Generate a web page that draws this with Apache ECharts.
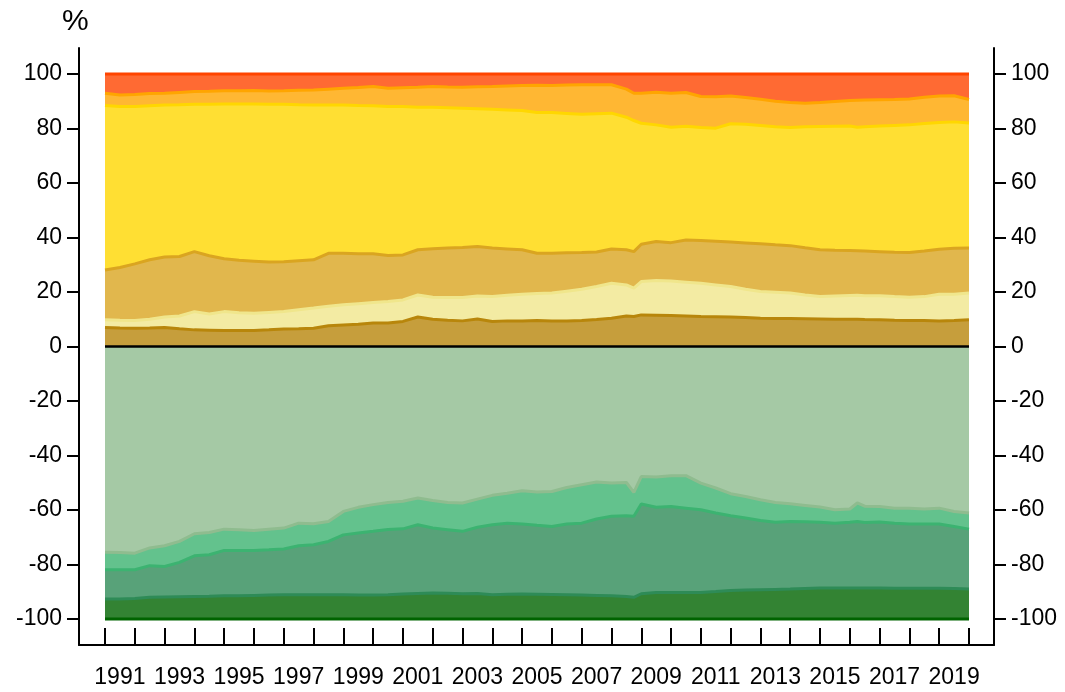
<!DOCTYPE html>
<html>
<head>
<meta charset="utf-8">
<script src="https://cdn.jsdelivr.net/npm/echarts@6/dist/echarts.min.js"></script>
<style>
html,body{margin:0;padding:0;background:#fff;}
#chart{width:1065px;height:692px;}
</style>
</head>
<body>
<div id="chart"></div>
<script>
// Time points (fractional years)
const dates = [1991.0,1991.5,1992.0,1992.5,1993.0,1993.5,1994.0,1994.5,1995.0,1995.5,1996.0,1996.5,1997.0,1997.5,1998.0,1998.5,1999.0,1999.5,2000.0,2000.5,2001.0,2001.5,2002.0,2002.5,2003.0,2003.5,2004.0,2004.5,2005.0,2005.5,2006.0,2006.5,2007.0,2007.5,2008.0,2008.5,2008.75,2009.0,2009.5,2010.0,2010.5,2011.0,2011.5,2012.0,2012.5,2013.0,2013.5,2014.0,2014.5,2015.0,2015.5,2016.0,2016.25,2016.5,2017.0,2017.5,2018.0,2018.5,2019.0,2019.5,2020.0];

// Year categories for the axis
const years = [1991,1992,1993,1994,1995,1996,1997,1998,1999,2000,2001,2002,2003,2004,2005,2006,2007,2008,2009,2010,2011,2012,2013,2014,2015,2016,2017,2018,2019];
const yTicks = [-100,-80,-60,-40,-20,0,20,40,60,80,100];

// Positive shares (stacked from 0 upward)
const posDarkGoldenrod = [7.0,6.8,6.7,6.8,7.0,6.5,6.1,6.0,5.9,5.9,5.9,6.1,6.4,6.5,6.7,7.6,7.9,8.2,8.6,8.6,9.2,10.8,10.0,9.6,9.4,10.1,9.2,9.4,9.4,9.5,9.4,9.4,9.5,9.9,10.4,11.2,11.0,11.6,11.5,11.4,11.2,11.0,10.9,10.8,10.6,10.4,10.3,10.3,10.2,10.1,10.0,10.0,10.0,9.9,9.8,9.6,9.5,9.5,9.4,9.5,9.8];
const posKhaki = [2.8,2.8,2.8,3.2,3.8,4.7,6.7,5.9,6.9,6.5,6.3,6.4,6.4,7.0,7.4,7.2,7.4,7.5,7.5,7.9,7.9,8.1,8.1,8.4,8.6,8.4,9.1,9.4,9.8,9.9,10.2,10.9,11.5,12.1,12.8,11.4,10.4,12.2,12.7,12.6,12.4,12.2,11.7,11.2,10.4,9.8,9.6,9.3,8.7,8.2,8.5,8.7,8.8,8.7,8.8,8.7,8.6,8.8,9.8,9.7,9.8];
const posGoldenrod = [18.3,19.4,20.8,21.8,22.0,21.8,22.0,21.4,19.4,19.2,19.1,18.5,18.3,18.0,17.7,19.4,18.9,18.3,17.9,16.9,16.5,16.6,17.8,18.1,18.3,18.2,17.8,17.0,16.3,14.8,14.6,14.1,13.5,12.7,12.6,12.9,13.4,13.7,14.3,14.1,15.5,15.7,16.0,16.3,17.0,17.5,17.4,17.4,17.3,17.2,16.8,16.5,16.3,16.4,16.2,16.3,16.4,16.7,16.5,16.8,16.5];
const posGold = [60.3,59.0,57.7,56.5,55.8,55.7,54.1,55.6,56.8,57.4,57.7,57.9,57.8,57.2,56.8,54.4,54.4,54.4,54.3,54.6,54.4,52.3,51.9,51.5,51.1,50.5,50.9,51.0,51.1,51.6,51.6,51.1,50.7,50.7,49.8,48.6,48.1,44.4,42.8,42.3,41.7,41.4,41.5,43.4,43.5,43.4,43.3,43.3,44.4,45.2,45.5,45.7,45.3,45.6,46.1,46.5,46.8,46.8,46.5,46.4,45.9];
const posOrange = [4.5,4.3,4.4,4.5,4.3,4.5,4.6,4.7,4.8,4.8,4.9,4.8,4.9,5.3,5.5,5.8,6.1,6.6,7.1,6.7,6.9,7.3,7.6,7.6,7.7,8.1,8.4,8.8,9.1,10.0,9.9,10.4,10.8,10.6,10.4,10.3,10.0,11.0,12.0,12.5,12.4,11.4,11.5,10.2,9.8,9.6,9.4,9.2,8.6,8.8,9.1,9.3,9.9,9.8,9.6,9.5,9.5,9.6,9.7,9.6,8.6];
const posOrangeRed = [7.1,7.7,7.6,7.2,7.1,6.8,6.5,6.4,6.2,6.2,6.1,6.3,6.2,6.0,5.9,5.6,5.3,5.0,4.6,5.3,5.1,4.9,4.6,4.8,4.9,4.7,4.6,4.4,4.3,4.2,4.3,4.1,4.0,4.0,4.0,5.6,7.1,7.1,6.7,7.1,6.8,8.3,8.4,8.1,8.7,9.3,10.0,10.5,10.8,10.5,10.1,9.8,9.7,9.6,9.5,9.4,9.2,8.6,8.1,8.0,9.4];

// Negative shares (stacked from 0 downward)
const negDarkSeaGreen = [-75.5,-75.6,-75.8,-73.9,-73.1,-71.5,-68.7,-68.2,-67.0,-67.2,-67.5,-67.0,-66.6,-64.8,-65.0,-64.2,-60.5,-59.0,-58.0,-57.2,-56.8,-55.6,-56.5,-57.2,-57.4,-56.0,-54.6,-53.8,-52.9,-53.4,-53.2,-51.7,-50.7,-49.7,-50.1,-49.9,-53.5,-47.7,-47.9,-47.4,-47.4,-50.1,-51.9,-54.0,-55.0,-56.2,-57.2,-57.7,-58.3,-58.9,-59.9,-59.6,-57.4,-58.6,-58.7,-59.3,-59.3,-59.6,-59.3,-60.5,-61.1];
const negMediumSeaGreen = [-6.4,-6.3,-6.1,-6.5,-7.6,-7.7,-8.1,-8.2,-7.8,-7.6,-7.3,-7.6,-7.7,-8.3,-7.7,-7.3,-8.6,-9.4,-9.8,-9.9,-10.1,-9.8,-10.1,-10.0,-10.4,-10.3,-10.8,-11.0,-12.2,-12.2,-12.8,-13.4,-14.1,-13.6,-12.2,-12.2,-8.8,-10.1,-11.1,-11.3,-11.9,-9.8,-9.2,-8.1,-7.9,-7.6,-7.3,-6.5,-6.0,-5.6,-4.9,-4.9,-6.8,-6.0,-5.7,-5.5,-5.8,-5.5,-5.8,-5.5,-5.9];
const negSeaGreen = [-10.7,-10.7,-10.5,-11.6,-11.2,-12.6,-14.9,-15.2,-16.6,-16.6,-16.5,-16.6,-16.8,-18.0,-18.4,-19.6,-22.0,-22.8,-23.4,-24.0,-23.9,-25.2,-23.8,-23.3,-22.9,-24.3,-25.7,-26.1,-25.7,-25.3,-25.0,-26.0,-26.4,-28.0,-29.1,-29.6,-29.7,-32.9,-31.2,-31.5,-30.9,-30.3,-28.8,-27.4,-26.4,-25.4,-24.6,-24.8,-24.5,-24.1,-23.8,-24.1,-24.4,-24.0,-24.2,-23.9,-23.6,-23.6,-23.6,-22.8,-22.0];
const negDarkGreen = [-7.4,-7.4,-7.6,-8.0,-8.1,-8.2,-8.3,-8.4,-8.6,-8.6,-8.7,-8.8,-8.9,-8.9,-8.9,-8.9,-8.9,-8.8,-8.8,-8.9,-9.2,-9.4,-9.6,-9.5,-9.3,-9.4,-8.9,-9.1,-9.2,-9.1,-9.0,-8.9,-8.8,-8.7,-8.6,-8.3,-8.0,-9.3,-9.8,-9.8,-9.8,-9.8,-10.1,-10.5,-10.7,-10.8,-10.9,-11.0,-11.2,-11.4,-11.4,-11.4,-11.4,-11.4,-11.4,-11.3,-11.3,-11.3,-11.3,-11.2,-11.0];

const zeroLine = [[0, 1991], [0, 2020]];

// value first, date second: keeps the stacked dimension on the y values
function pairs(arr) { return dates.map((d, i) => [arr[i], d]); }

function areaSeries(name, arr, stack, color) {
  return {
    name: name, type: 'line', stack: stack, xAxisIndex: 2, yAxisIndex: 2,
    encode: { x: 1, y: 0 },
    data: pairs(arr), showSymbol: false, symbol: 'none', z: 2,
    lineStyle: { color: color, width: 3 },
    areaStyle: { color: color, opacity: 0.8 },
    emphasis: { disabled: true }
  };
}

const FONT = 'Liberation Sans, Arial, sans-serif';
const chart = echarts.init(document.getElementById('chart'));
const yRange = { min: -109.5, max: 109.5 };

chart.setOption({
  animation: false,
  backgroundColor: '#fff',
  grid: [
    { left: 79, top: 48, width: 915, height: 597 },
    { left: 105, top: 48, width: 864, height: 597 }
  ],
  graphic: [{
    type: 'text', left: 62, top: 7,
    style: { text: '%', fontSize: 30, fill: '#000', fontFamily: FONT }
  }],
  xAxis: [
    { gridIndex: 0, type: 'value', min: 0, max: 1, position: 'bottom',
      axisLine: { show: true, onZero: false, lineStyle: { color: '#000', width: 2 } },
      axisTick: { show: false }, axisLabel: { show: false }, splitLine: { show: false } },
    { gridIndex: 1, type: 'category', data: years.map(String), position: 'bottom', boundaryGap: true,
      axisLine: { show: false, onZero: false },
      axisTick: { show: true, inside: true, length: 17, interval: 0, lineStyle: { color: '#000', width: 2 } },
      axisLabel: { interval: 1, margin: 21, fontSize: 23, color: '#000', fontFamily: FONT },
      splitLine: { show: false } },
    { gridIndex: 1, type: 'value', min: 1991, max: 2020, position: 'top', show: false }
  ],
  yAxis: [
    { gridIndex: 0, type: 'value', position: 'left', min: yRange.min, max: yRange.max,
      axisLine: { show: true, onZero: false, lineStyle: { color: '#000', width: 2 } },
      axisTick: { show: true, length: 12, customValues: yTicks, lineStyle: { color: '#000', width: 2 } },
      axisLabel: { customValues: yTicks, margin: 17, fontSize: 23, color: '#000', fontFamily: FONT },
      splitLine: { show: false } },
    { gridIndex: 0, type: 'value', position: 'right', min: yRange.min, max: yRange.max,
      axisLine: { show: true, onZero: false, lineStyle: { color: '#000', width: 2 } },
      axisTick: { show: true, length: 12, customValues: yTicks, lineStyle: { color: '#000', width: 2 } },
      axisLabel: { customValues: yTicks, margin: 17, fontSize: 23, color: '#000', fontFamily: FONT },
      splitLine: { show: false } },
    { gridIndex: 1, type: 'value', min: yRange.min, max: yRange.max, show: false }
  ],
  series: [
    areaSeries('A', posDarkGoldenrod, 'pos', '#B8860B'),
    areaSeries('B', posKhaki, 'pos', '#F0E68C'),
    areaSeries('C', posGoldenrod, 'pos', '#DAA520'),
    areaSeries('D', posGold, 'pos', '#FFD700'),
    areaSeries('E', posOrange, 'pos', '#FFA500'),
    areaSeries('F', posOrangeRed, 'pos', '#FF4500'),
    areaSeries('G', negDarkSeaGreen, 'neg', '#8FBC8F'),
    areaSeries('H', negMediumSeaGreen, 'neg', '#3CB371'),
    areaSeries('I', negSeaGreen, 'neg', '#2E8B57'),
    areaSeries('J', negDarkGreen, 'neg', '#006400'),
    { name: 'zero', type: 'line', xAxisIndex: 2, yAxisIndex: 2, encode: { x: 1, y: 0 },
      data: zeroLine, showSymbol: false, symbol: 'none', z: 5,
      lineStyle: { color: '#000', width: 2.5 }, emphasis: { disabled: true } }
  ]
});
</script>
</body>
</html>
